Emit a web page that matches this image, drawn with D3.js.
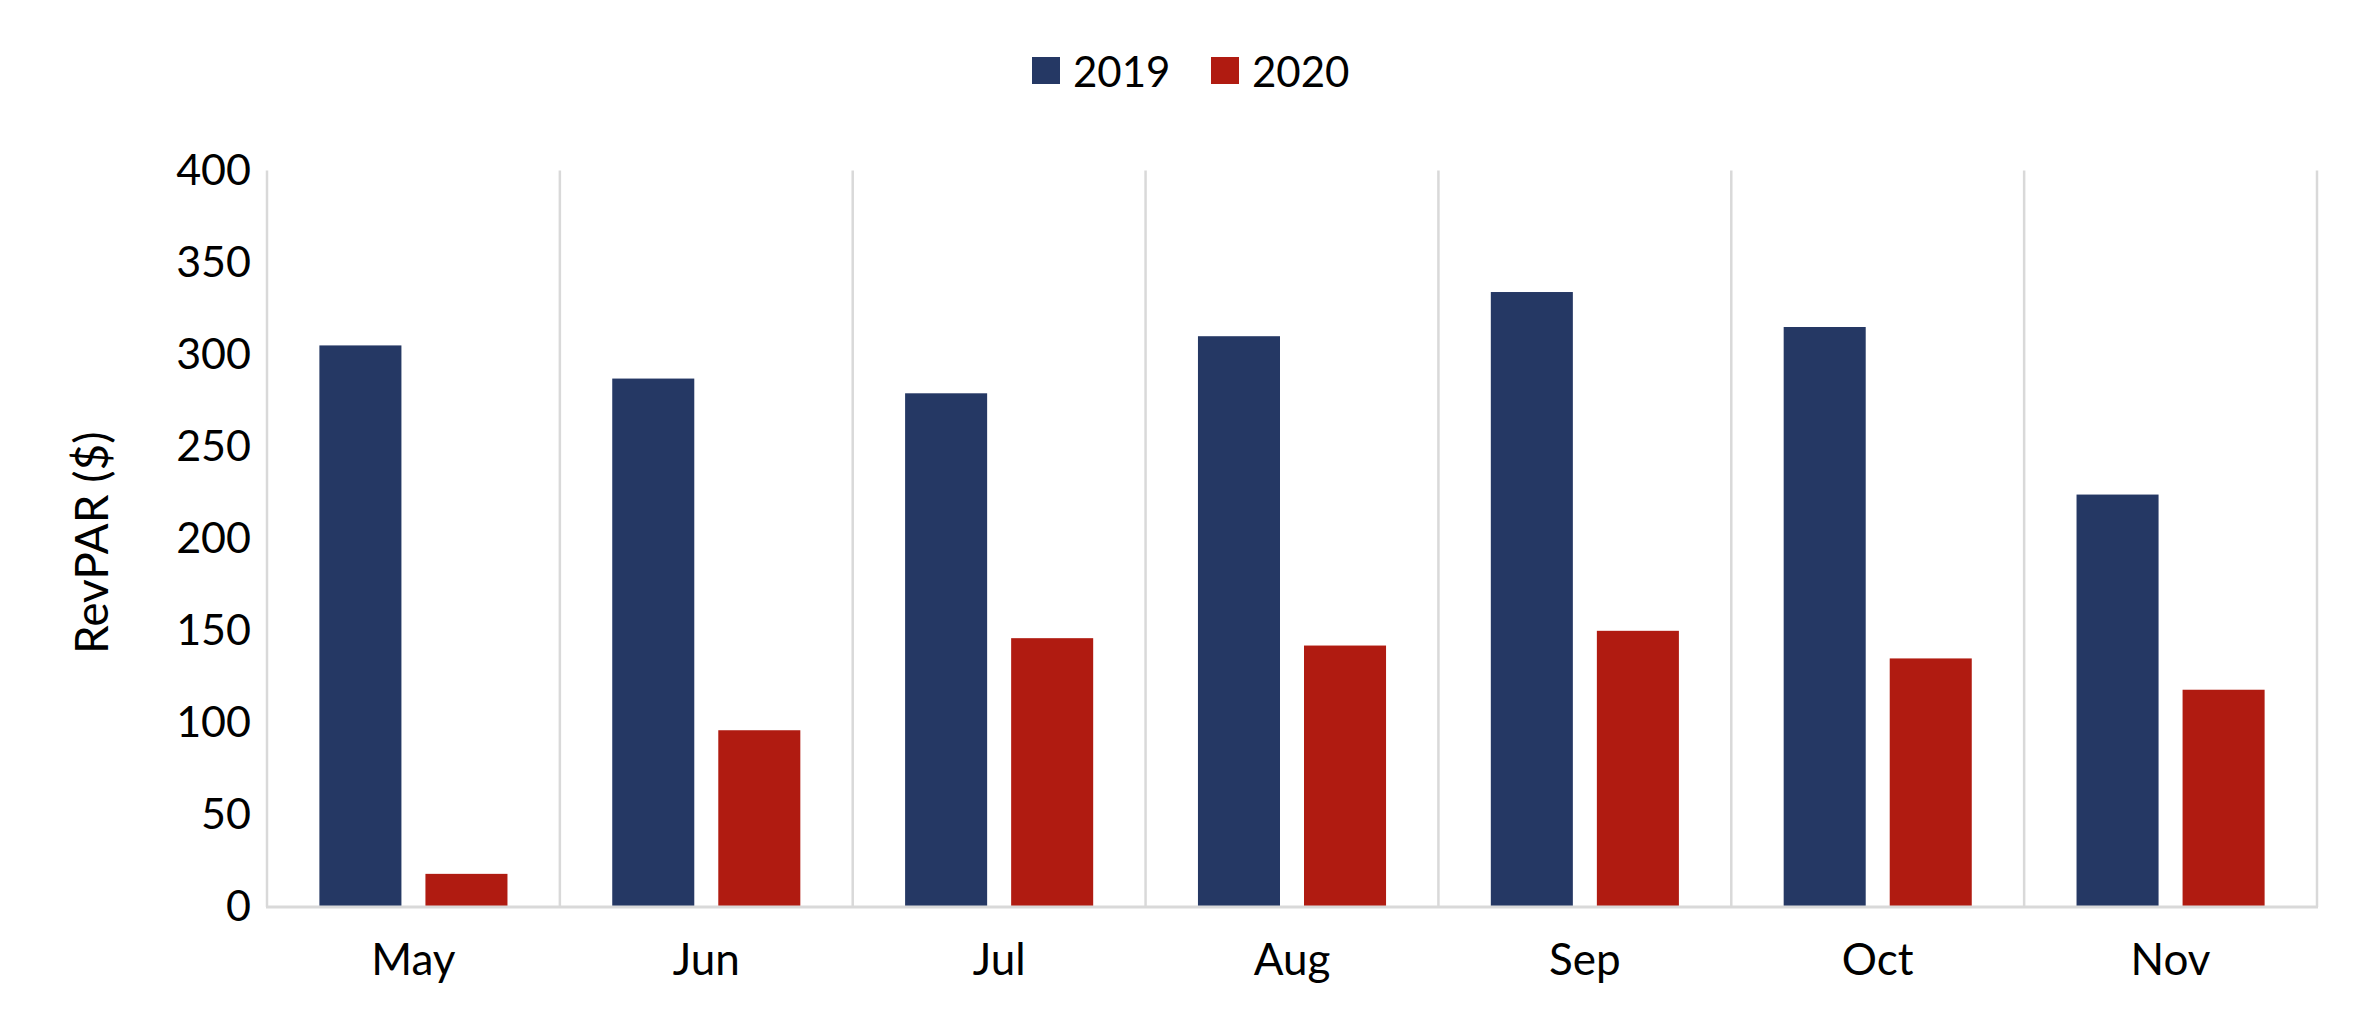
<!DOCTYPE html>
<html>
<head>
<meta charset="utf-8">
<script src="https://cdn.jsdelivr.net/npm/d3@7"></script>
<style>
html,body{margin:0;padding:0;background:#fff;}
svg{display:block;font-family:Lato,"Open Sans",sans-serif;}
</style>
</head>
<body>
<svg id="chart" width="2366" height="1031"></svg>
<script>
const categories = ["May","Jun","Jul","Aug","Sep","Oct","Nov"];
const seriesNames = ["2019","2020"];
const values2019 = [305, 287, 279, 310, 334, 315, 224];
const values2020 = [18, 96, 146, 142, 150, 135, 118];
const yTicks = [0, 50, 100, 150, 200, 250, 300, 350, 400];
const colors = ["#253864", "#B01B11"];

const seriesValues = [values2019, values2020];
const data = categories.map((c, i) => ({cat: c, vals: seriesNames.map((s, j) => ({s, v: seriesValues[j][i]}))}));

const svg = d3.select("#chart");
const m = {left: 267, right: 2366 - 2317, top: 170.5, bottom: 1031 - 907};
const W = 2366, H = 1031;

const x0 = d3.scaleBand().domain(categories).range([m.left, W - m.right]).paddingInner(0).paddingOuter(0);
const x1 = d3.scaleBand().domain(seriesNames).range([0, x0.bandwidth()]).paddingInner(0.2264).paddingOuter(0.494);
const y = d3.scaleLinear().domain([0, 400]).range([H - m.bottom, m.top]);
const color = d3.scaleOrdinal().domain(seriesNames).range(colors);

// vertical category separators
const seps = categories.map(c => x0(c)).concat([x0.range()[1]]);
svg.append("g").selectAll("line").data(seps).join("line")
  .attr("x1", d => d).attr("x2", d => d)
  .attr("y1", y(400)).attr("y2", y(0))
  .attr("stroke", "#d9d9d9").attr("stroke-width", 2.5);

// bars
const g = svg.append("g").selectAll("g").data(data).join("g")
  .attr("transform", d => `translate(${x0(d.cat)},0)`);
g.selectAll("rect").data(d => d.vals).join("rect")
  .attr("x", d => x1(d.s))
  .attr("width", x1.bandwidth())
  .attr("y", d => y(d.v))
  .attr("height", d => y(0) - y(d.v))
  .attr("fill", d => color(d.s));

// x axis baseline
svg.append("line")
  .attr("x1", x0.range()[0] - 1).attr("x2", x0.range()[1] + 1)
  .attr("y1", y(0)).attr("y2", y(0))
  .attr("stroke", "#d9d9d9").attr("stroke-width", 3);

// y axis
const yAxis = d3.axisLeft(y).tickValues(yTicks).tickSize(0).tickPadding(16);
const ya = svg.append("g").attr("transform", `translate(${m.left},0)`).call(yAxis);
ya.select(".domain").remove();
ya.selectAll("text").attr("font-size", 43).attr("fill", "#000").attr("font-family", "Lato, sans-serif");

// x axis labels
const xAxis = d3.axisBottom(x0).tickSize(0).tickPadding(37);
const xa = svg.append("g").attr("transform", `translate(0,${y(0)})`).call(xAxis);
xa.select(".domain").remove();
xa.selectAll("text").attr("font-size", 44).attr("fill", "#000").attr("font-family", "Lato, sans-serif");

// y label
svg.append("text")
  .attr("transform", `translate(90,${(y(0) + y(400)) / 2 + 4}) rotate(-90)`)
  .attr("text-anchor", "middle").attr("dominant-baseline", "central")
  .attr("font-size", 46).attr("fill", "#000")
  .text("RevPAR ($)");

// legend
const legendX = [1032, 1211];
const lg = svg.append("g").selectAll("g").data(seriesNames).join("g")
  .attr("transform", (d, i) => `translate(${legendX[i]},0)`);
lg.append("rect").attr("x", 0).attr("y", 57).attr("width", 28).attr("height", 27).attr("fill", d => color(d));
lg.append("text").attr("x", 41).attr("y", 71).attr("dominant-baseline", "central")
  .attr("font-size", 42).attr("fill", "#000").text(d => d);
</script>
</body>
</html>
